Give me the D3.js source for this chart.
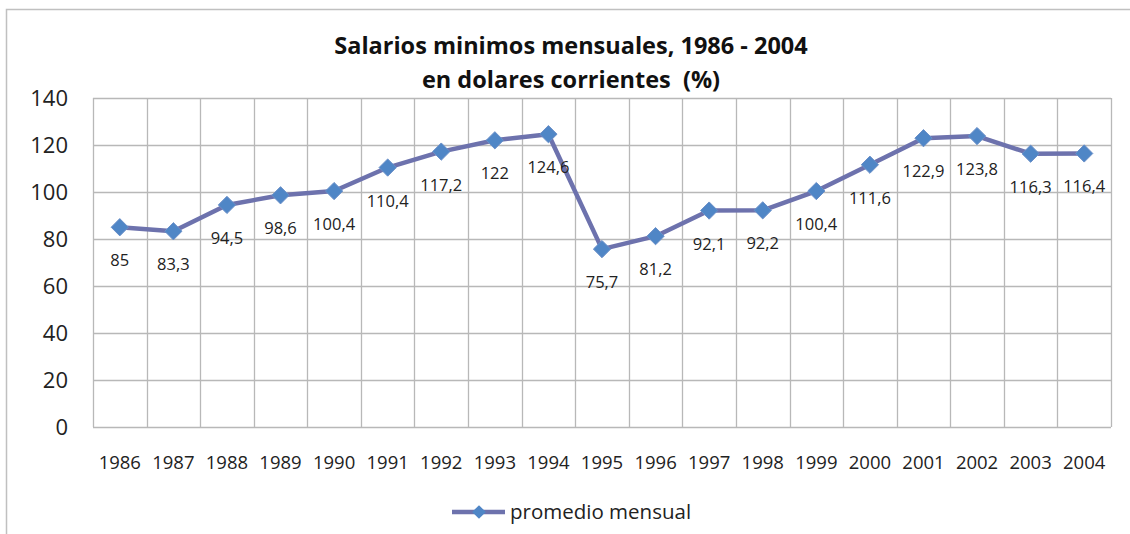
<!DOCTYPE html>
<html>
<head>
<meta charset="utf-8">
<script src="https://cdn.jsdelivr.net/npm/d3@7"></script>
<style>
  body { margin: 0; background: #fff; }
  svg { display: block; font-family: "Open Sans", Lato, sans-serif; }
</style>
</head>
<body>
<script>
// data
const years = ["1986","1987","1988","1989","1990","1991","1992","1993","1994","1995",
  "1996","1997","1998","1999","2000","2001","2002","2003","2004"];
const promedio = [85, 83.3, 94.5, 98.6, 100.4, 110.4, 117.2, 122, 124.6, 75.7,
  81.2, 92.1, 92.2, 100.4, 111.6, 122.9, 123.8, 116.3, 116.4];
const yTicks = [0, 20, 40, 60, 80, 100, 120, 140];
const titleLines = ["Salarios minimos mensuales, 1986 - 2004", "en dolares corrientes  (%)"];
const seriesName = "promedio mensual";

const width = 1130, height = 534;
const margin = { top: 98, right: 19, bottom: 107, left: 93 };

const lineColor = "#6d72ad";
const markerColor = "#4f86c6";
const gridColor = "#b8b8b8";

const svg = d3.select("body").append("svg")
  .attr("width", width)
  .attr("height", height);

// outer chart border (left + top only visible)
svg.append("path")
  .attr("d", `M6.5,${height} V9.5 H${width}`)
  .attr("fill", "none")
  .attr("stroke", "#c0c0c0")
  .attr("stroke-width", 1.5);

const x = d3.scaleBand()
  .domain(years)
  .range([margin.left, width - margin.right]);

const y = d3.scaleLinear()
  .domain([0, 140])
  .range([height - margin.bottom, margin.top]);

// horizontal grid
svg.append("g")
  .selectAll("line")
  .data(yTicks)
  .join("line")
  .attr("x1", margin.left)
  .attr("x2", width - margin.right)
  .attr("y1", d => Math.round(y(d)) + 0.5)
  .attr("y2", d => Math.round(y(d)) + 0.5)
  .attr("stroke", gridColor)
  .attr("stroke-width", 1.3);

// vertical grid (band edges)
const edges = years.map(d => x(d)).concat([x.range()[1]]);
svg.append("g")
  .selectAll("line")
  .data(edges)
  .join("line")
  .attr("x1", d => Math.round(d) + 0.5)
  .attr("x2", d => Math.round(d) + 0.5)
  .attr("y1", y(140))
  .attr("y2", y(0))
  .attr("stroke", gridColor)
  .attr("stroke-width", 1.3);

// y axis labels
svg.append("g")
  .selectAll("text")
  .data(yTicks)
  .join("text")
  .attr("x", 68)
  .attr("y", d => y(d))
  .attr("dy", "0.36em")
  .attr("text-anchor", "end")
  .attr("fill", "#222")
  .style("font-size", "22px")
  .text(d => d);

// x axis labels
svg.append("g")
  .selectAll("text")
  .data(years)
  .join("text")
  .attr("x", d => x(d) + x.bandwidth() / 2)
  .attr("y", 462)
  .attr("dy", "0.36em")
  .attr("text-anchor", "middle")
  .attr("fill", "#222")
  .style("font-size", "18.5px")
  .text(d => d);

// title
svg.append("g")
  .selectAll("text")
  .data(titleLines)
  .join("text")
  .attr("x", 571)
  .attr("y", (d, i) => 46 + i * 34)
  .attr("dy", "0.36em")
  .attr("text-anchor", "middle")
  .attr("fill", "#111")
  .style("font-size", "23.5px")
  .style("font-weight", "bold")
  .style("white-space", "pre")
  .text(d => d);

// series line
const line = d3.line()
  .x((d, i) => x(years[i]) + x.bandwidth() / 2)
  .y(d => y(d));

svg.append("path")
  .datum(promedio)
  .attr("d", line)
  .attr("fill", "none")
  .attr("stroke", lineColor)
  .attr("stroke-width", 4.5)
  .attr("stroke-linejoin", "round");

// diamond markers
const diamond = d3.symbol().type(d3.symbolDiamond2).size(190);
svg.append("g")
  .selectAll("path")
  .data(promedio)
  .join("path")
  .attr("d", diamond)
  .attr("transform", (d, i) => `translate(${x(years[i]) + x.bandwidth() / 2},${y(d)})`)
  .attr("fill", markerColor)
  .attr("stroke", "#6a8fc8")
  .attr("stroke-width", 1);

// data labels (below points)
svg.append("g")
  .selectAll("text")
  .data(promedio)
  .join("text")
  .attr("x", (d, i) => x(years[i]) + x.bandwidth() / 2)
  .attr("y", d => y(d) + 33)
  .attr("dy", "0.36em")
  .attr("text-anchor", "middle")
  .attr("fill", "#222")
  .style("font-size", "16.5px")
  .text(d => String(d).replace(".", ","));

// legend
const leg = svg.append("g").attr("transform", "translate(452,512)");
leg.append("line")
  .attr("x1", 0).attr("x2", 53)
  .attr("stroke", lineColor)
  .attr("stroke-width", 4.5);
leg.append("path")
  .attr("d", d3.symbol().type(d3.symbolDiamond2).size(120))
  .attr("transform", "translate(27,0)")
  .attr("fill", markerColor);
leg.append("text")
  .attr("x", 58)
  .attr("dy", "0.36em")
  .attr("fill", "#222")
  .style("font-size", "20.5px")
  .text(seriesName);
</script>
</body>
</html>
